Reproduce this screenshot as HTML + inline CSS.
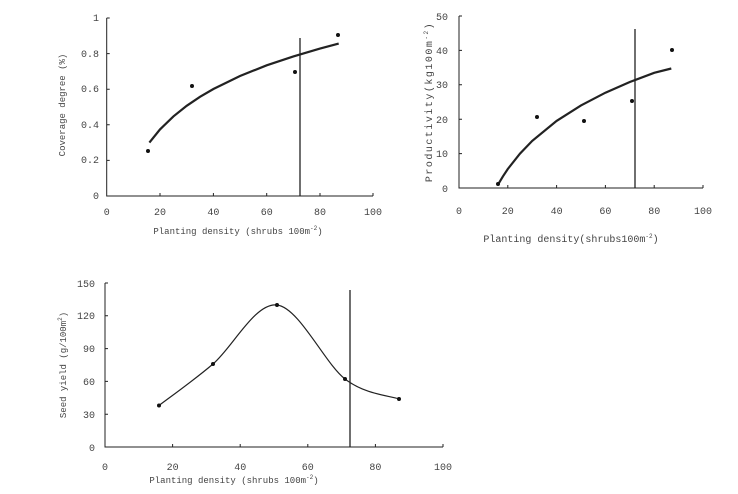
<!DOCTYPE html>
<html><head><meta charset="utf-8"><style>
html,body{margin:0;padding:0;background:#fff;}
svg{display:block;}
text{font-family:"Liberation Mono","Noto Sans CJK SC",monospace;fill:#444;}
.t{font-size:10px;}
.l{font-size:9px;}
</style></head><body>
<svg width="738" height="494" viewBox="0 0 738 494">
<!-- Chart 1 -->
<g stroke="#222" stroke-width="1" fill="none">
<polyline points="106.7,18 106.7,196 373,196"/>
<path d="M160,196v-3M213.4,196v-3M266.7,196v-3M320,196v-3M373,196v-3M106.7,160.4h3M106.7,124.8h3M106.7,89.2h3M106.7,53.6h3M106.7,18h3"/>
<line x1="300" y1="38" x2="300" y2="196" stroke-width="1.3"/>
<polyline stroke-width="2.2" points="149.4,142.6 160,129.4 173.4,116.4 186.7,105.8 200,96.8 213.4,89 240,76 266.7,65.3 293.4,56.4 320,48.6 338.7,43.6"/>
</g>
<g fill="#111"><circle cx="148" cy="151" r="2"/><circle cx="192" cy="86" r="2"/><circle cx="295" cy="72" r="2"/><circle cx="338" cy="35" r="2"/></g>
<g class="t" text-anchor="end"><text x="99" y="199">0</text><text x="99" y="163">0.2</text><text x="99" y="128">0.4</text><text x="99" y="92">0.6</text><text x="99" y="57">0.8</text><text x="99" y="21">1</text></g>
<g class="t" text-anchor="middle"><text x="106.7" y="215">0</text><text x="160" y="215">20</text><text x="213.4" y="215">40</text><text x="266.7" y="215">60</text><text x="320" y="215">80</text><text x="373" y="215">100</text></g>
<text class="l" x="238" y="234" text-anchor="middle">Planting density (shrubs 100m<tspan font-size="6" dy="-4">-2</tspan><tspan dy="4">)</tspan></text>
<text class="l" transform="translate(65,105) rotate(-90)" text-anchor="middle">Coverage degree (%)</text>

<!-- Chart 2 -->
<g stroke="#222" stroke-width="1" fill="none">
<polyline points="459,16 459,188 703,188"/>
<path d="M507.8,188v-3M556.6,188v-3M605.4,188v-3M654.2,188v-3M703,188v-3M459,153.6h3M459,119.2h3M459,84.8h3M459,50.4h3M459,16h3"/>
<line x1="635" y1="29" x2="635" y2="188" stroke-width="1.3"/>
<polyline stroke-width="2.2" points="498,184.6 502.9,176.4 507.8,169 520,153.6 532.2,140.9 556.6,120.9 581,105.4 605.4,92.7 629.8,82 654.2,72.8 671.3,68.5"/>
</g>
<g fill="#111"><circle cx="498" cy="184" r="2"/><circle cx="537" cy="117" r="2"/><circle cx="584" cy="121" r="2"/><circle cx="632" cy="101" r="2"/><circle cx="672" cy="50" r="2"/></g>
<g class="t" text-anchor="end"><text x="448" y="192">0</text><text x="448" y="157">10</text><text x="448" y="123">20</text><text x="448" y="88">30</text><text x="448" y="54">40</text><text x="448" y="20">50</text></g>
<g class="t" text-anchor="middle"><text x="459" y="214">0</text><text x="507.8" y="214">20</text><text x="556.6" y="214">40</text><text x="605.4" y="214">60</text><text x="654.2" y="214">80</text><text x="703" y="214">100</text></g>
<text class="t" x="571" y="242" text-anchor="middle">Planting density(shrubs100m<tspan font-size="6" dy="-4">-2</tspan><tspan dy="4">)</tspan></text>
<text class="t" transform="translate(432,102) rotate(-90)" text-anchor="middle" letter-spacing="1.5">Productivity(kg100m<tspan font-size="6" dy="-4">-2</tspan><tspan dy="4">)</tspan></text>

<!-- Chart 3 -->
<g stroke="#222" stroke-width="1" fill="none">
<polyline points="105,283 105,447 443,447"/>
<path d="M172.6,447v-3M240.2,447v-3M307.8,447v-3M375.4,447v-3M443,447v-3M105,414.2h3M105,381.4h3M105,348.6h3M105,315.8h3M105,283h3"/>
<line x1="350" y1="290" x2="350" y2="447" stroke-width="1.3"/>
<path stroke-width="1.2" d="M159,405.5 C168,398.6 193.3,380.75 213,364 C232.7,347.25 255,302.5 277,305 C299,307.5 324.7,363.3 345,379 C365.3,394.7 390,395.7 399,399"/>
</g>
<g fill="#111"><circle cx="159" cy="405.5" r="2"/><circle cx="213" cy="364" r="2"/><circle cx="277" cy="305" r="2"/><circle cx="345" cy="379" r="2"/><circle cx="399" cy="399" r="2"/></g>
<g class="t" text-anchor="end"><text x="95" y="451">0</text><text x="95" y="418">30</text><text x="95" y="385">60</text><text x="95" y="352">90</text><text x="95" y="319">120</text><text x="95" y="287">150</text></g>
<g class="t" text-anchor="middle"><text x="105" y="470">0</text><text x="172.6" y="470">20</text><text x="240.2" y="470">40</text><text x="307.8" y="470">60</text><text x="375.4" y="470">80</text><text x="443" y="470">100</text></g>
<text class="l" x="234" y="483" text-anchor="middle">Planting density (shrubs 100m<tspan font-size="6" dy="-4">-2</tspan><tspan dy="4">)</tspan></text>
<text class="l" transform="translate(66,365) rotate(-90)" text-anchor="middle">Seed yield  (g/100m<tspan font-size="6" dy="-4">2</tspan><tspan dy="4">)</tspan></text>
</svg>
</body></html>
